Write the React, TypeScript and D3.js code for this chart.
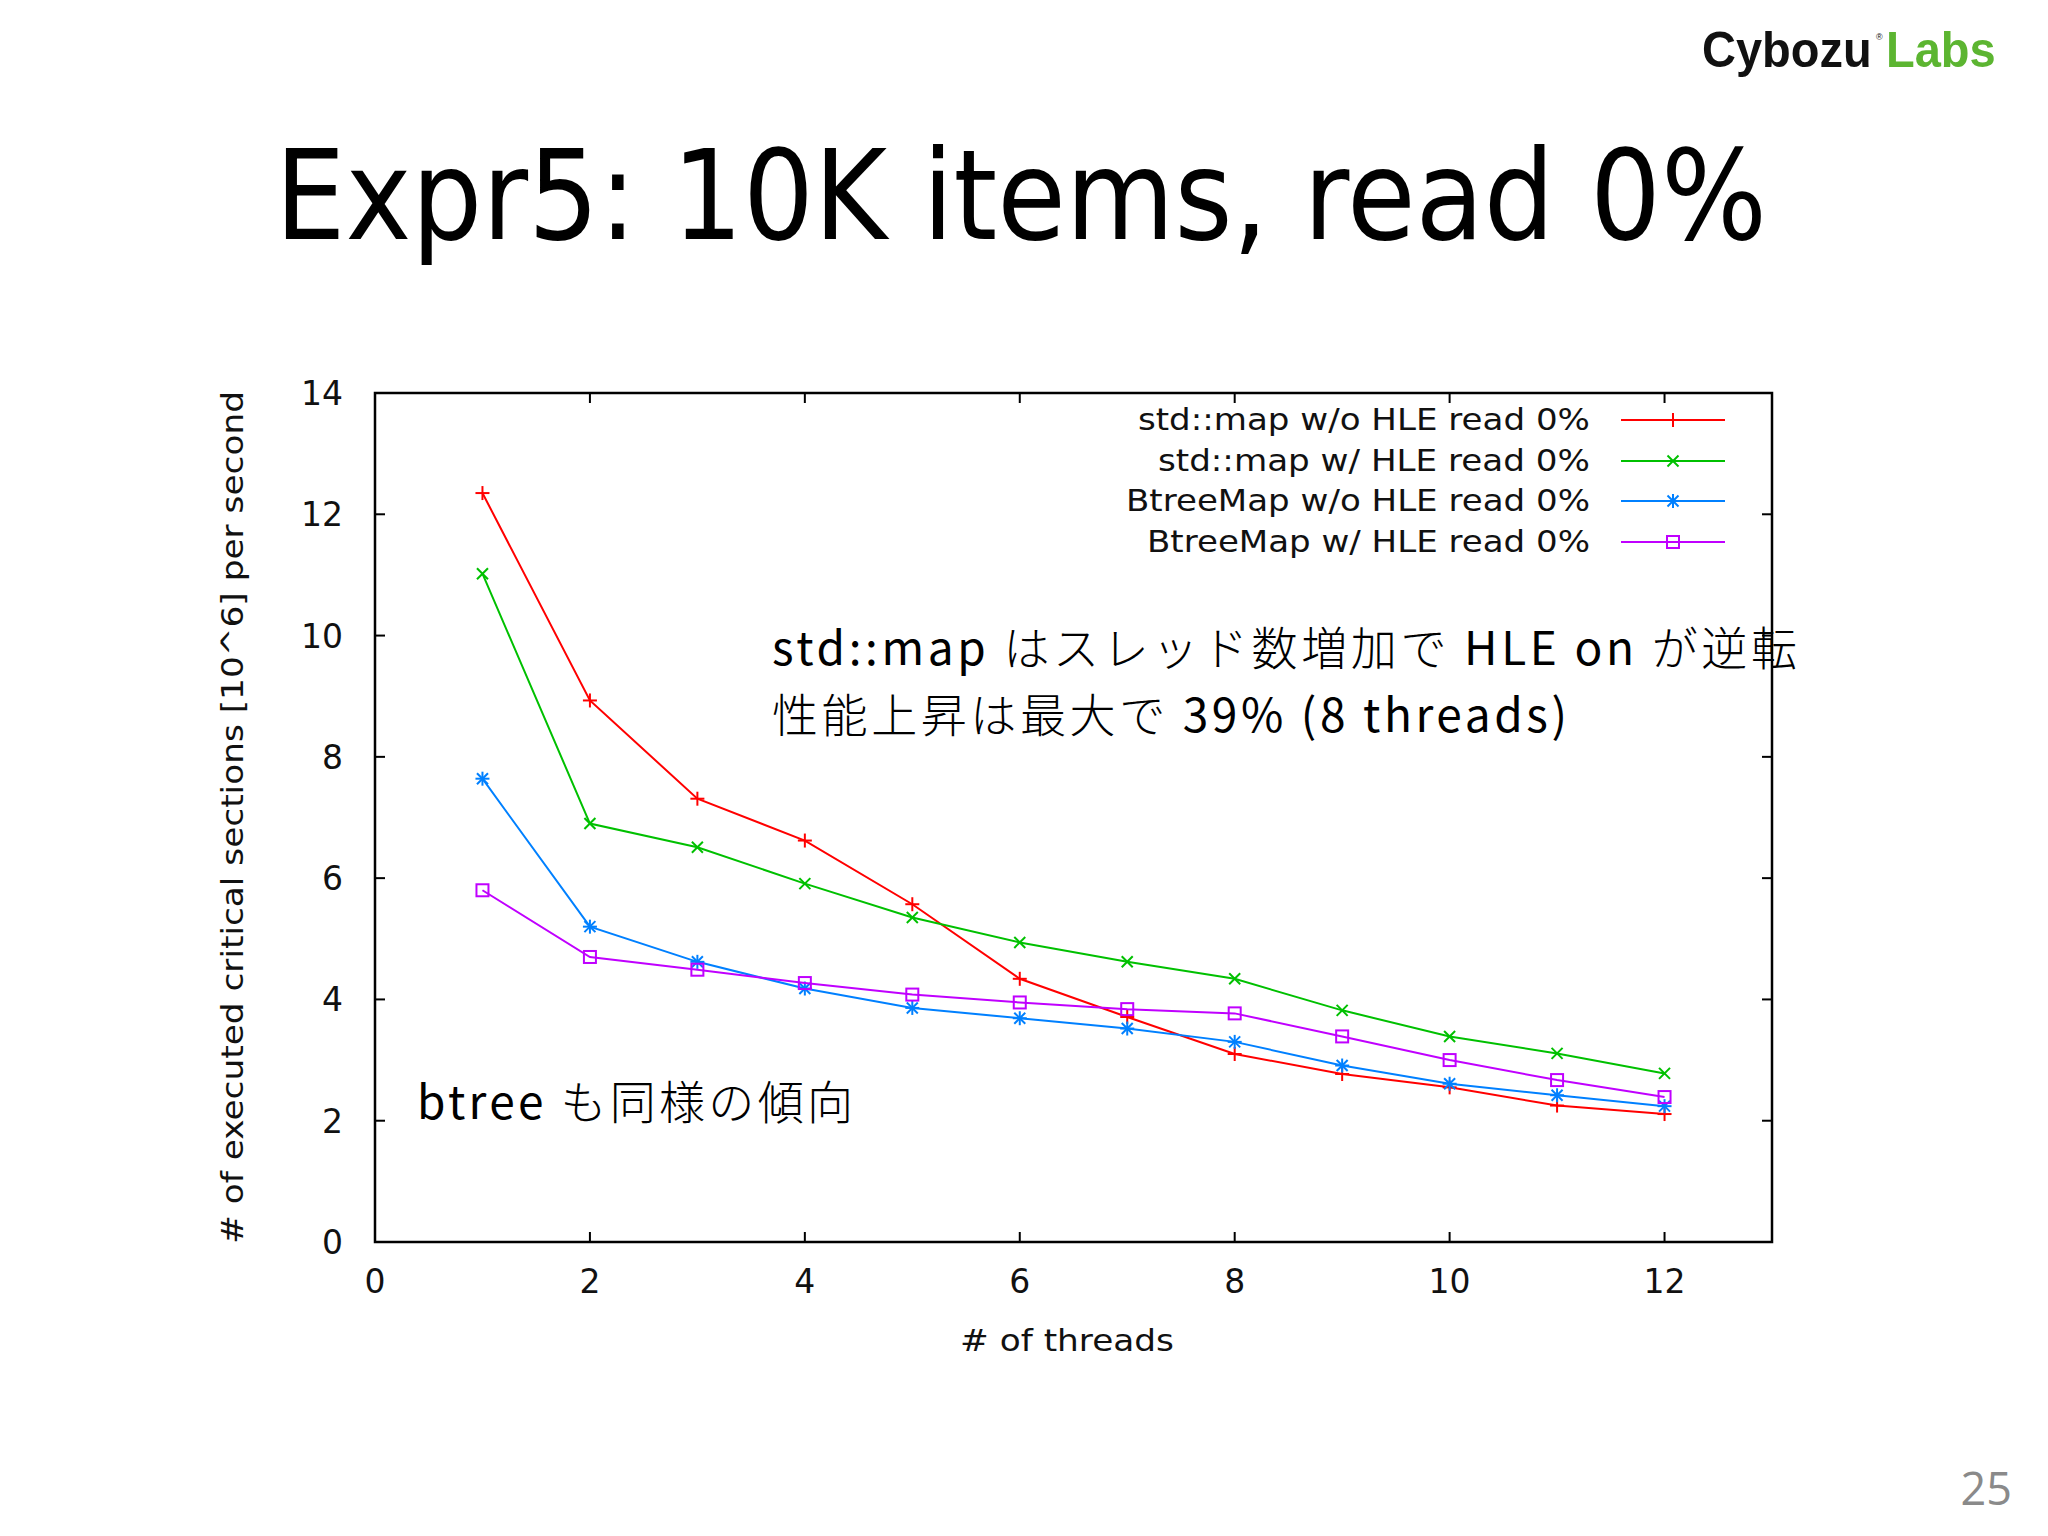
import React from "react";
import * as d3 from "d3";

// ---- data ----
const threads = [1, 2, 3, 4, 5, 6, 7, 8, 9, 10, 11, 12];
const stdMapNoHle = [12.35, 8.93, 7.31, 6.62, 5.57, 4.34, 3.71, 3.1, 2.77, 2.55, 2.25, 2.11];
const stdMapHle = [11.02, 6.9, 6.51, 5.91, 5.35, 4.94, 4.62, 4.34, 3.82, 3.39, 3.11, 2.78];
const btreeNoHle = [7.64, 5.2, 4.62, 4.18, 3.86, 3.69, 3.52, 3.3, 2.91, 2.61, 2.42, 2.24];
const btreeHle = [5.8, 4.7, 4.49, 4.27, 4.08, 3.95, 3.84, 3.77, 3.39, 3.0, 2.67, 2.39];

const seriesNames = [
  "std::map w/o HLE read 0%",
  "std::map w/ HLE read 0%",
  "BtreeMap w/o HLE read 0%",
  "BtreeMap w/ HLE read 0%",
];
const seriesValues = [stdMapNoHle, stdMapHle, btreeNoHle, btreeHle];
const seriesColors = ["#ff0000", "#00c000", "#0080ff", "#c000ff"];
const seriesMarkers = ["plus", "cross", "star", "square"];
const legendWidths = [452, 432, 464, 443];

const xTicks = [0, 2, 4, 6, 8, 10, 12];
const yTicks = [0, 2, 4, 6, 8, 10, 12, 14];

const titleText = "Expr5: 10K items, read 0%";
const xLabel = "# of threads";
const yLabel = "# of executed critical sections [10^6] per second";
// annotation segments: [text, isJapanese]
const note1: [string, boolean][] = [
  ["std::map ", false],
  ["はスレッド数増加で", true],
  [" HLE on ", false],
  ["が逆転", true],
];
const note2: [string, boolean][] = [
  ["性能上昇は最大で", true],
  [" 39% (8 threads)", false],
];
const note3: [string, boolean][] = [
  ["btree ", false],
  ["も同様の傾向", true],
];
const pageNo = "25";

const W = 2048;
const H = 1536;
const P = { left: 375, right: 1772, top: 393, bottom: 1242 };
const chartFont = "'DejaVu Sans', sans-serif";
const jpFont = "'Noto Sans CJK JP', sans-serif";
const logoFont = "'Liberation Sans', Arial, sans-serif";

function Marker({ type, cx, cy, color }: { type: string; cx: number; cy: number; color: string }) {
  const r = 7;
  const d = 5.5;
  const sw = 2;
  if (type === "plus") {
    return (
      <g stroke={color} strokeWidth={sw}>
        <line x1={cx - r} y1={cy} x2={cx + r} y2={cy} />
        <line x1={cx} y1={cy - r} x2={cx} y2={cy + r} />
      </g>
    );
  }
  if (type === "cross") {
    return (
      <g stroke={color} strokeWidth={sw}>
        <line x1={cx - d} y1={cy - d} x2={cx + d} y2={cy + d} />
        <line x1={cx - d} y1={cy + d} x2={cx + d} y2={cy - d} />
      </g>
    );
  }
  if (type === "star") {
    return (
      <g stroke={color} strokeWidth={sw}>
        <line x1={cx - r} y1={cy} x2={cx + r} y2={cy} />
        <line x1={cx} y1={cy - r} x2={cx} y2={cy + r} />
        <line x1={cx - d} y1={cy - d} x2={cx + d} y2={cy + d} />
        <line x1={cx - d} y1={cy + d} x2={cx + d} y2={cy - d} />
      </g>
    );
  }
  return (
    <rect x={cx - 6} y={cy - 6} width={12} height={12} fill="none" stroke={color} strokeWidth={sw} />
  );
}

function Note({ parts, x, y, len }: { parts: [string, boolean][]; x: number; y: number; len: number }) {
  return (
    <text x={x} y={y} textLength={len} lengthAdjust="spacing">
      {parts.map(([t, jp], i) => (
        <tspan key={i} fontWeight={jp ? 300 : 400}>
          {t}
        </tspan>
      ))}
    </text>
  );
}

export default function App() {
  const x = d3.scaleLinear().domain([0, 13]).range([P.left, P.right]);
  const y = d3.scaleLinear().domain([0, 14]).range([P.bottom, P.top]);
  const line = d3
    .line<number>()
    .x((_, i) => x(threads[i]))
    .y((v) => y(v));

  const tickLen = 10;
  const legendY = [420, 461, 501, 542];
  const legendTextRight = 1590;
  const legendLine = [1621, 1725];

  return (
    <svg
      width={W}
      height={H}
      viewBox={`0 0 ${W} ${H}`}
      style={{ position: "absolute", left: 0, top: 0, background: "#fff" }}
    >
      <rect x={0} y={0} width={W} height={H} fill="#fff" />

      {/* logo */}
      <g transform="translate(1702, 67) scale(1, 1.08)">
        <text x={0} y={0} fontFamily={logoFont} fontWeight="bold" fontSize={47} fill="#111">
          Cybozu
        </text>
      </g>
      <text x={1876} y={40} fontFamily={logoFont} fontSize={9} fill="#111">
        ®
      </text>
      <g transform="translate(1886, 67) scale(1, 1.08)">
        <text x={0} y={0} fontFamily={logoFont} fontWeight="bold" fontSize={47} fill="#5cb531">
          Labs
        </text>
      </g>

      {/* title */}
      <text x={275} y={239} fontFamily={chartFont} fontSize={124} fill="#000" textLength={1492} lengthAdjust="spacingAndGlyphs">
        {titleText}
      </text>

      {/* ticks */}
      <g stroke="#000" strokeWidth={2}>
        {xTicks.filter((t) => t > 0).map((t) => (
          <g key={"xt" + t}>
            <line x1={x(t)} x2={x(t)} y1={P.bottom} y2={P.bottom - tickLen} />
            <line x1={x(t)} x2={x(t)} y1={P.top} y2={P.top + tickLen} />
          </g>
        ))}
        {yTicks.filter((t) => t > 0 && t < 14).map((t) => (
          <g key={"yt" + t}>
            <line x1={P.left} x2={P.left + tickLen} y1={y(t)} y2={y(t)} />
            <line x1={P.right} x2={P.right - tickLen} y1={y(t)} y2={y(t)} />
          </g>
        ))}
      </g>

      {/* tick labels */}
      <g fontFamily={chartFont} fontSize={33} fill="#111">
        {xTicks.map((t) => (
          <text key={"xl" + t} x={x(t)} y={1293} textAnchor="middle">
            {t}
          </text>
        ))}
        {yTicks.map((t) => (
          <text key={"yl" + t} x={343} y={y(t) + 12} textAnchor="end">
            {t}
          </text>
        ))}
      </g>

      {/* axis labels */}
      <text x={1067} y={1351} textAnchor="middle" fontFamily={chartFont} fontSize={31} fill="#111" textLength={214} lengthAdjust="spacingAndGlyphs">
        {xLabel}
      </text>
      <text
        transform={`translate(243, ${(P.top + P.bottom) / 2}) rotate(-90)`}
        textAnchor="middle"
        fontFamily={chartFont}
        fontSize={31}
        fill="#111"
        textLength={853}
        lengthAdjust="spacingAndGlyphs"
      >
        {yLabel}
      </text>

      {/* series */}
      {seriesValues.map((vals, si) => (
        <g key={"s" + si}>
          <path d={line(vals) || ""} fill="none" stroke={seriesColors[si]} strokeWidth={2} />
          {vals.map((v, i) => (
            <Marker key={i} type={seriesMarkers[si]} cx={x(threads[i])} cy={y(v)} color={seriesColors[si]} />
          ))}
        </g>
      ))}

      {/* legend */}
      {seriesNames.map((name, si) => (
        <g key={"lg" + si}>
          <text
            x={legendTextRight}
            y={legendY[si] + 10}
            textAnchor="end"
            fontFamily={chartFont}
            fontSize={30}
            fill="#111"
            textLength={legendWidths[si]}
            lengthAdjust="spacingAndGlyphs"
          >
            {name}
          </text>
          <line x1={legendLine[0]} x2={legendLine[1]} y1={legendY[si]} y2={legendY[si]} stroke={seriesColors[si]} strokeWidth={2} />
          <Marker type={seriesMarkers[si]} cx={(legendLine[0] + legendLine[1]) / 2} cy={legendY[si]} color={seriesColors[si]} />
        </g>
      ))}

      {/* border */}
      <rect x={P.left} y={P.top} width={P.right - P.left} height={P.bottom - P.top} fill="none" stroke="#000" strokeWidth={2.5} />

      {/* annotations */}
      <g fontFamily={jpFont} fontSize={46} fill="#000">
        <Note parts={note1} x={772} y={665} len={1025} />
        <Note parts={note2} x={772} y={732} len={795} />
        <Note parts={note3} x={417} y={1119} len={436} />
      </g>

      {/* page number */}
      <text x={2012} y={1505} textAnchor="end" fontFamily="'Open Sans', sans-serif" fontSize={45} fill="#8a8a8a">
        {pageNo}
      </text>
    </svg>
  );
}
